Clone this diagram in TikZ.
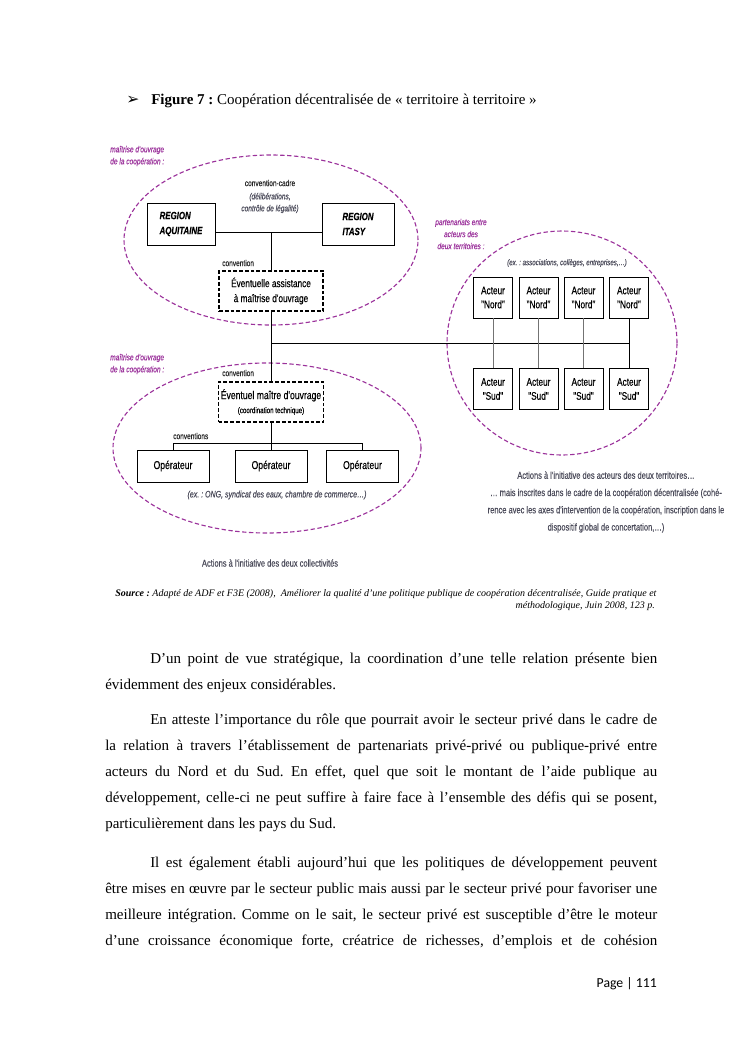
\documentclass[tikz,border=0pt]{standalone}
\usepackage{fontspec}
\setmainfont{Liberation Serif}
\newfontfamily\narrowsf[FakeStretch=0.75,FakeBold=0.3]{Liberation Sans}
\newfontfamily\symbfont{DejaVu Sans}
\newfontfamily\pagefont{Carlito}
\usetikzlibrary{positioning,calc}
\definecolor{moapurple}{RGB}{155,50,155}
\definecolor{notegray}{RGB}{75,75,90}
\frenchspacing
\tikzset{
  box/.style={draw,line width=.6pt,inner sep=0pt,align=center,font=\narrowsf\fontsize{8.8}{11.2}\selectfont},
  dbox/.style={draw,line width=1.3pt,dash pattern=on 3pt off 1.6pt,inner sep=0pt,align=center,font=\narrowsf\fontsize{8.8}{12}\selectfont},
  lbl/.style={inner sep=0pt,font=\narrowsf\fontsize{7}{9}\selectfont,text=black!85},
  note/.style={inner sep=0pt,align=left,font=\narrowsf\itshape\fontsize{7}{9.6}\selectfont,text=moapurple},
  exnote/.style={inner sep=0pt,align=center,font=\narrowsf\itshape\fontsize{7}{9.6}\selectfont,text=notegray},
  ellip/.style={moapurple,line width=.9pt,dash pattern=on 3.5pt off 2pt},
  para/.style={anchor=base west,inner sep=0pt,text width=441.6pt,align=justify,font=\fontsize{12}{20.8}\selectfont},
  link/.style={line width=.7pt}
}
\begin{document}
\begin{tikzpicture}[x=.8pt,y=-.8pt]
\useasboundingbox (0,0) rectangle (745,1053);
\node[anchor=base,inner sep=0pt,font=\symbfont\fontsize{12.5}{13}\selectfont] (bullet) at (133,104) {➢};
\node[anchor=base west,inner sep=0pt,font=\fontsize{12}{14}\selectfont] (title) at (151,104) {\textbf{Figure 7 :} Coopération décentralisée de « territoire à territoire »};

\draw[ellip] (271,240) ellipse [x radius=117.6pt,y radius=68pt];
\draw[ellip] (267,448) ellipse [x radius=123.2pt,y radius=68pt];
\draw[ellip] (562,343) ellipse [x radius=92pt,y radius=89.6pt];

\node[note,anchor=west] (moa1) at (110,156) {maîtrise d'ouvrage\\de la coopération :};
\node[note,anchor=west] (moa2) at (110,364) {maîtrise d'ouvrage\\de la coopération :};
\node[note,align=center] (parten) at (461,234) {partenariats entre\\acteurs des\\deux territoires :};

\node[box,minimum width=54.4pt,minimum height=33.6pt,align=left,font=\narrowsf\bfseries\itshape\fontsize{8.4}{12}\selectfont] (aqui) at (181,224) {REGION\\AQUITAINE};
\node[box,minimum width=57.6pt,minimum height=33.6pt,align=left,font=\narrowsf\bfseries\itshape\fontsize{8.4}{12}\selectfont] (itasy) at (358,224) {REGION\\ITASY};
\node[lbl] (cclbl) at (270,183) {convention-cadre};
\node[exnote] (deliblbl) at (270,203) {(délibérations,\\contrôle de légalité)};
\node[lbl,anchor=west] (conv1) at (222,263) {convention};
\node[dbox,minimum width=83.2pt,minimum height=32pt] (assist) at (271,291) {Éventuelle assistance\\à maîtrise d'ouvrage};

\node[lbl,anchor=west] (conv2) at (222,373) {convention};
\node[dbox,minimum width=84pt,minimum height=32pt,font=\narrowsf\fontsize{9.2}{11.2}\selectfont] (moa) at (271,402) {Éventuel maître d'ouvrage\\{\fontsize{6.6}{9}\selectfont(coordination technique)}};
\node[lbl,anchor=west] (convs) at (173,436) {conventions};
\foreach \n/\x in {1/173,2/271,3/362.5}{\node[box,minimum width=57.6pt,minimum height=25.6pt,font=\narrowsf\fontsize{9.2}{11}\selectfont] (op\n) at (\x,466) {Opérateur};}
\node[exnote,font=\narrowsf\itshape\fontsize{7.5}{9}\selectfont] (exop) at (277,495) {(ex. : ONG, syndicat des eaux, chambre de commerce…)};

\node[exnote,font=\narrowsf\itshape\fontsize{6.6}{9}\selectfont] (exnord) at (567,263) {(ex. : associations, collèges, entreprises,…)};
\foreach \n/\x in {1/493,2/538.5,3/583.5,4/629}{
  \node[box,minimum width=31.2pt,minimum height=32.8pt] (nord\n) at (\x,297.5) {Acteur\\"Nord"};
  \node[box,minimum width=31.2pt,minimum height=32.8pt] (sud\n) at (\x,389) {Acteur\\"Sud"};
}

\coordinate (cadre) at (271,232);
\draw[link] (aqui.east |- cadre) -- (itasy.west |- cadre);
\draw[link] (cadre) -- (assist.north);
\draw[link] (assist.south) -- (moa.north);
\coordinate (hub) at (271,343);
\draw[link] (hub) -- (hub -| nord4);
\foreach \n in {1,2,3}{\draw[black!55,line width=.4pt] (nord\n) -- (sud\n);}
\draw[link] (nord4) -- (sud4);
\draw[link] (moa) -- (op2);
\coordinate (cvs) at (271,443);
\draw[line width=.5pt] (op1.north) -- (op1.north |- cvs) -- (op3.north |- cvs) -- (op3.north);

\node[lbl,text=notegray,font=\narrowsf\fontsize{8}{9}\selectfont] (actcoll) at (270,563) {Actions à l'initiative des deux collectivités};
\node[lbl,text=notegray,align=center,font=\narrowsf\fontsize{8}{13.8}\selectfont] (actterr) at (606,502) {Actions à l'initiative des acteurs des deux territoires…\\… mais inscrites dans le cadre de la coopération décentralisée (cohé-\\rence avec les axes d'intervention de la coopération, inscription dans le\\dispositif global de concertation,…)};

\node[anchor=base west,inner sep=0pt,font=\itshape\fontsize{8}{9.6}\selectfont] (src1) at (115,596) {\textbf{Source :} Adapté de ADF et F3E (2008),~ Améliorer la qualité d’une politique publique de coopération décentralisée, Guide pratique et};
\node[anchor=base east,inner sep=0pt,font=\itshape\fontsize{8}{9.6}\selectfont] (src2) at (655,608) {méthodologique, Juin 2008, 123 p.};

\node[para] (p1) at (105,663) {\hspace*{36pt}D’un point de vue stratégique, la coordination d’une telle relation présente bien\linebreak évidemment des enjeux considérables.};
\node[para] (p2) at (105,724) {\hspace*{36pt}En atteste l’importance du rôle que pourrait avoir le secteur privé dans le cadre de\linebreak la relation à travers l’établissement de partenariats privé-privé ou publique-privé entre\linebreak acteurs du Nord et du Sud. En effet, quel que soit le montant de l’aide publique au\linebreak développement, celle-ci ne peut suffire à faire face à l’ensemble des défis qui se posent,\linebreak particulièrement dans les pays du Sud.};
\node[para] (p3) at (105,867) {\hspace*{36pt}Il est également établi aujourd’hui que les politiques de développement peuvent\linebreak être mises en œuvre par le secteur public mais aussi par le secteur privé pour favoriser une\linebreak meilleure intégration. Comme on le sait, le secteur privé est susceptible d’être le moteur\linebreak d’une croissance économique forte, créatrice de richesses, d’emplois et de cohésion\linebreak};

\node[anchor=base east,inner sep=0pt,font=\pagefont\fontsize{11}{13}\selectfont] (pageno) at (657,987) {Page | 111};
\end{tikzpicture}
\end{document}
